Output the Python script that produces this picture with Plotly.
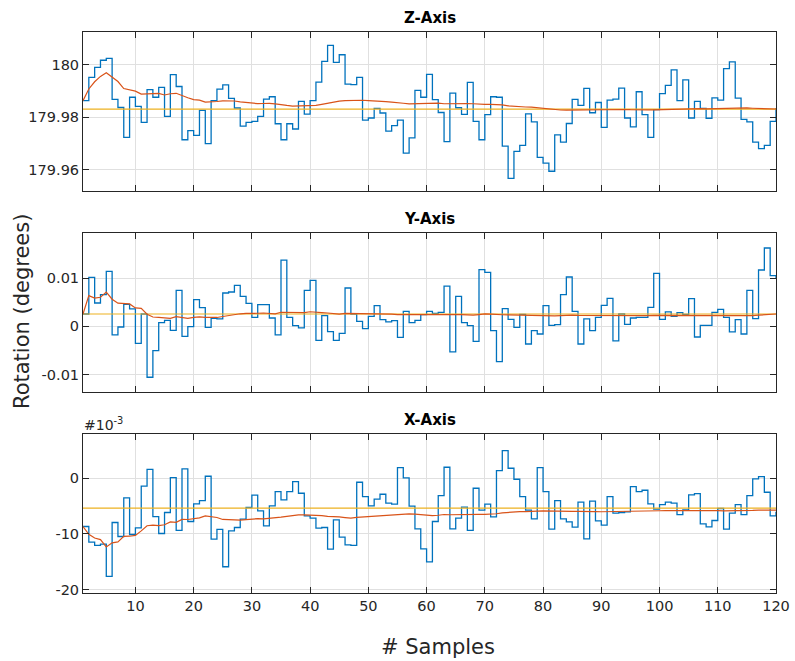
import numpy as np
import plotly.graph_objects as go

samples = list(range(1, 121))

z_axis = [
    179.9863, 179.9952, 179.9990, 180.0017, 180.0024, 179.9868, 179.9837, 179.9723, 179.9876, 179.9841,
    179.9780, 179.9905, 179.9876, 179.9914, 179.9803, 179.9962, 179.9917, 179.9714, 179.9749, 179.9731,
    179.9826, 179.9699, 179.9863, 179.9907, 179.9923, 179.9872, 179.9835, 179.9766, 179.9780, 179.9784,
    179.9803, 179.9869, 179.9878, 179.9775, 179.9714, 179.9775, 179.9755, 179.9860, 179.9812, 179.9863,
    179.9934, 180.0013, 180.0074, 180.0009, 180.0038, 179.9926, 179.9924, 179.9952, 179.9789, 179.9797,
    179.9834, 179.9816, 179.9747, 179.9768, 179.9789, 179.9663, 179.9721, 179.9902, 179.9876, 179.9963,
    179.9867, 179.9818, 179.9707, 179.9892, 179.9836, 179.9811, 179.9933, 179.9784, 179.9714, 179.9810,
    179.9878, 179.9876, 179.9690, 179.9567, 179.9670, 179.9693, 179.9813, 179.9782, 179.9647, 179.9625,
    179.9594, 179.9733, 179.9705, 179.9776, 179.9868, 179.9845, 179.9910, 179.9817, 179.9856, 179.9761,
    179.9865, 179.9869, 179.9911, 179.9797, 179.9763, 179.9897, 179.9810, 179.9723, 179.9829, 179.9890,
    179.9921, 179.9980, 179.9863, 179.9942, 179.9797, 179.9860, 179.9834, 179.9796, 179.9874, 179.9865,
    179.9985, 180.0011, 179.9873, 179.9792, 179.9782, 179.9705, 179.9680, 179.9693, 179.9784, 179.9835,
]

y_axis = [
    0.00255, 0.01014, 0.00483, 0.00655, 0.01138, -0.00179, -0.00014, 0.00455, 0.00359, -0.00352,
    0.00255, -0.01055, -0.00503, 0.00076, 0.00124, -0.00083, 0.00745, -0.00207, -0.00007, 0.00552,
    0.00386, -0.00021, 0.00166, 0.00152, 0.00690, 0.00710, 0.00848, 0.00621, 0.00476, 0.00186,
    0.00448, 0.00448, 0.00172, -0.00179, 0.01372, 0.00186, 0.00014, -0.00034, 0.00745, 0.00952,
    -0.00290, 0.00221, -0.00110, -0.00290, -0.00145, 0.00793, 0.00255, 0.00103, -0.00048, 0.00207,
    0.00428, 0.00138, 0.00090, 0.00117, -0.00228, 0.00310, 0.00076, 0.00124, 0.00241, 0.00310,
    0.00269, 0.00290, 0.00834, -0.00531, 0.00621, 0.00076, 0.00014, -0.00310, 0.01172, 0.01117,
    -0.00090, -0.00731, 0.00366, 0.00145, -0.00021, 0.00248, -0.00366, -0.00090, -0.00159, 0.00428,
    0.00021, 0.00034, 0.00655, 0.01021, 0.00310, -0.00366, 0.00152, -0.00090, 0.00186, 0.00434,
    0.00579, -0.00303, 0.00255, 0.00041, 0.00172, 0.00186, 0.00186, 0.00393, 0.01097, 0.00145,
    0.00297, 0.00207, 0.00283, 0.00248, 0.00572, -0.00221, 0.00021, 0.00021, 0.00290, 0.00352,
    0.00186, -0.00117, 0.00138, -0.00159, 0.00745, 0.00159, 0.01166, 0.01621, 0.01048, 0.01000,
]

# X-axis rotation in units of 1e-3 degrees
x_axis_e3 = [
    -8.66, -11.46, -12.06, -11.82, -17.61, -7.94, -10.45, -3.52, -10.09, -8.90,
    -1.43, 1.61, -6.87, -9.91, -6.15, 0.12, -9.37, 1.67, -7.76, -4.60,
    -4.00, 0.36, -10.93, -9.19, -15.88, -9.43, -8.84, -7.34, -5.25, -3.04,
    -5.85, -8.54, -4.96, -2.39, -3.88, -2.39, -0.60, -2.69, -6.75, -7.16,
    -8.96, -8.84, -12.72, -7.46, -10.57, -11.94, -12.06, -0.72, -3.28, -4.96,
    -3.76, -2.87, -4.48, -4.66, 1.91, 0.06, -5.01, -9.07, -12.66, -14.99,
    -7.76, -3.10, 1.97, -9.07, -7.16, -5.19, -9.37, -1.79, -5.73, -4.66,
    -6.93, 1.37, 4.96, 1.79, -0.18, -3.28, -5.73, -7.28, 1.91, -2.39,
    -9.13, -4.00, -7.28, -7.82, -8.78, -4.30, -10.87, -4.12, -7.64, -8.42,
    -3.28, -6.27, -6.15, -6.03, -1.49, -2.39, -2.15, -4.60, -5.55, -4.72,
    -4.30, -4.48, -6.51, -5.67, -2.99, -2.75, -8.18, -8.72, -7.58, -5.43,
    -9.13, -6.27, -4.72, -6.51, -3.10, -0.12, 0.30, -2.51, -6.75, -6.00,
]

reference_levels = [179.9831, 0.00255, -5.37]

panel_titles = ["Z-Axis", "Y-Axis", "X-Axis"]
z_ticks = [179.96, 179.98, 180]
z_ticklabels = ["179.96", "179.98", "180"]
y_ticks = [-0.01, 0, 0.01]
y_ticklabels = ["-0.01", "0", "0.01"]
x_ticks = [-20, -10, 0]
x_ticklabels = ["-20", "-10", "0"]
sample_ticks = list(range(10, 121, 10))
sample_ticklabels = [str(v) for v in sample_ticks]

# ---------------- layout geometry (pixels) ----------------
W, H = 795, 661
ML, MR, MT, MB = 83, 19, 32, 68
PW, PH = W - ML - MR, H - MT - MB
panel_px = [(32, 191.3), (232.7, 392), (434, 593)]
yranges = [(179.95177, 180.01246), (-0.0136, 0.01938), (-20.59, 7.94)]

def py(p):
    return (H - MB - p) / PH

def px(p):
    return (p - ML) / PW

BLUE, RED, YEL = "#0072BD", "#D95319", "#EDB120"
AX = "#262626"
GRID = "#e0e0e0"
FONT = "DejaVu Sans"

series = [z_axis, y_axis, x_axis_e3]
yticks = [(z_ticks, z_ticklabels), (y_ticks, y_ticklabels), (x_ticks, x_ticklabels)]

fig = go.Figure()
layout = dict(
    width=W, height=H, autosize=False,
    margin=dict(l=ML, r=MR, t=MT, b=MB, pad=0, autoexpand=False),
    paper_bgcolor="white", plot_bgcolor="white",
    showlegend=False,
    font=dict(family=FONT, color=AX, size=14),
)
annotations = []

for i, vals in enumerate(series):
    n = i + 1
    xa = "x" if n == 1 else f"x{n}"
    ya = "y" if n == 1 else f"y{n}"
    arr = np.array(vals, dtype=float)
    running = np.cumsum(arr) / np.arange(1, len(arr) + 1)
    fig.add_trace(go.Scatter(x=samples, y=vals, mode="lines", line=dict(color=BLUE, width=1.3, shape="hv"),
                             xaxis=xa, yaxis=ya))
    fig.add_trace(go.Scatter(x=[samples[0], samples[-1]], y=[reference_levels[i]] * 2, mode="lines",
                             line=dict(color=YEL, width=1.2), xaxis=xa, yaxis=ya))
    fig.add_trace(go.Scatter(x=samples, y=running, mode="lines", line=dict(color=RED, width=1.2),
                             xaxis=xa, yaxis=ya))
    top, bot = panel_px[i]
    common = dict(showline=True, linecolor=AX, linewidth=1, mirror="ticks", ticks="inside",
                  ticklen=6, tickcolor=AX, tickwidth=1, showgrid=True, gridcolor=GRID, gridwidth=1,
                  zeroline=False, automargin=False, tickfont=dict(family=FONT, size=14.5, color=AX))
    layout["xaxis" if n == 1 else f"xaxis{n}"] = dict(
        common, domain=[0, 1], anchor=ya, range=[1, 120], tickvals=sample_ticks,
        ticktext=sample_ticklabels, showticklabels=(n == 3))
    layout["yaxis" if n == 1 else f"yaxis{n}"] = dict(
        common, domain=[py(bot), py(top)], anchor=xa, range=list(yranges[i]),
        tickvals=yticks[i][0], ticktext=yticks[i][1])
    annotations.append(dict(text=f"<b>{panel_titles[i]}</b>", xref="paper", yref="paper",
                            x=px(429.5), y=py(top - 14), xanchor="center", yanchor="middle",
                            showarrow=False, font=dict(family=FONT, size=15, color="black")))

annotations.append(dict(text="Rotation (degrees)", xref="paper", yref="paper", x=px(22), y=py(312),
                        xanchor="center", yanchor="middle", textangle=-90, showarrow=False,
                        font=dict(family=FONT, size=21, color=AX)))
annotations.append(dict(text="# Samples", xref="paper", yref="paper", x=px(438), y=py(647),
                        xanchor="center", yanchor="middle", showarrow=False,
                        font=dict(family=FONT, size=21, color=AX)))
annotations.append(dict(text="#10<sup>-3</sup>", xref="paper", yref="paper", x=px(82), y=py(424),
                        xanchor="left", yanchor="middle", showarrow=False,
                        font=dict(family=FONT, size=14, color=AX)))
layout["annotations"] = annotations
fig.update_layout(**layout)
fig.write_html("out.html", config={"displayModeBar": False, "responsive": False},
               post_script="document.body.style.margin='0';document.body.style.padding='0';document.body.style.overflow='hidden';")
